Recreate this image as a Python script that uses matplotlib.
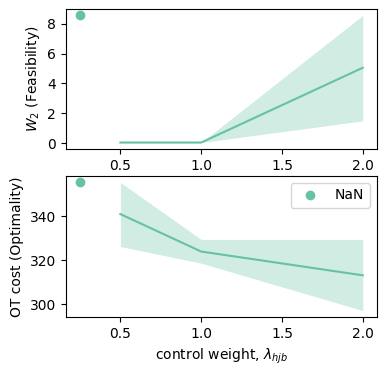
import matplotlib
matplotlib.use("Agg")
from matplotlib import pyplot as plt

color = "#66c2a5"

lam = [0.5, 1.0, 2.0]
nan_x = 0.25

w2_mean = [0.05, 0.05, 5.05]
w2_low = [0.05, 0.05, 1.5]
w2_high = [0.05, 0.05, 8.55]

ot_mean = [340.9, 323.9, 313.1]
ot_low = [326.2, 318.6, 297.1]
ot_high = [355.3, 329.4, 329.4]

fig, (ax1, ax2) = plt.subplots(2, 1, figsize=(3.85, 3.76), dpi=100)
ax1.set_position([0.171, 0.604, 0.808, 0.372])
ax2.set_position([0.171, 0.157, 0.808, 0.375])

ax1.plot(lam, w2_mean, color=color)
ax1.fill_between(lam, w2_low, w2_high, color=color, alpha=0.3, linewidth=0)
ax1.plot([nan_x], [max(w2_high)], "o", color=color)
ax1.set_ylabel("$W_2$ (Feasibility)")
ax1.set_xticks([0.5, 1.0, 1.5, 2.0])

ax2.plot(lam, ot_mean, color=color)
ax2.fill_between(lam, ot_low, ot_high, color=color, alpha=0.3, linewidth=0)
ax2.plot([nan_x], [max(ot_high)], "o", color=color, label="NaN")
ax2.set_ylabel("OT cost (Optimality)")
ax2.set_xlabel("control weight, $\\lambda_{hjb}$")
ax2.set_xticks([0.5, 1.0, 1.5, 2.0])
ax2.set_yticks([300, 320, 340])
ax2.legend(loc="upper right")

fig.savefig("out.png", dpi=100)
